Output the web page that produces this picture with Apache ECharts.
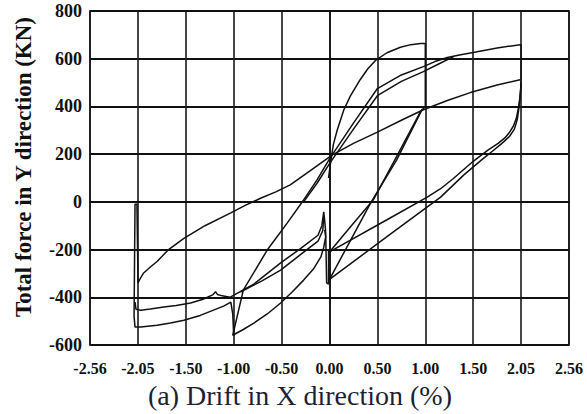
<!DOCTYPE html>
<html>
<head>
<meta charset="utf-8">
<script src="https://cdn.jsdelivr.net/npm/echarts@6/dist/echarts.min.js"></script>
<style>
html,body{margin:0;padding:0;background:#fff;}
#chart{width:587px;height:414px;}
</style>
</head>
<body>
<div id="chart"></div>
<script>
// x positions are in gridline units: each gridline step = 0.5; labels below are the printed tick texts
const xTickLabels = ['-2.56','-2.05','-1.50','-1.00','-0.50','0.00','0.50','1.00','1.50','2.05','2.56'];
const yTickValues = [-600,-400,-200,0,200,400,600,800];

const firstCycle = [[-0.01,100],[0.01,160],[0.04,240],[0.08,300],[0.15,386],[0.22,445],[0.32,512],[0.40,558],[0.48,593],[0.60,625],[0.74,648],[0.85,659],[0.95,664],[1.0,664],[1.0,400]];
const loadSteep = [[-1.01,-560],[-0.90,-370],[-0.65,-202],[-0.44,-88],[-0.27,8],[-0.13,92],[0.0,180],[0.25,330],[0.5,475],[0.75,532],[0.98,567],[1.1,588],[1.23,605],[1.37,617],[1.5,626],[1.75,645],[1.99,659],[2.0,659],[2.0,510]];
const loadSteep2 = [[-0.27,0],[-0.13,78],[0.0,160],[0.25,305],[0.5,445],[0.75,505],[0.98,546],[1.15,580],[1.3,610]];
const unload1a = [[1.0,400],[0.95,378],[0.71,197],[0.46,10],[0.2,-114],[0.0,-210]];
const unload1b = [[0.97,390],[0.70,175],[0.43,-4],[0.2,-176],[0.0,-325]];
const unload2a = [[2.0,510],[1.995,470],[1.985,430],[1.97,390],[1.95,350],[1.92,318],[1.88,292],[1.83,268],[1.76,245],[1.65,216],[1.5,170],[1.29,97],[1.16,55],[1.02,20],[0.6,-75],[0.0,-210]];
const unload2b = [[2.0,495],[1.99,440],[1.98,400],[1.96,345],[1.93,305],[1.88,275],[1.80,245],[1.7,212],[1.6,180],[1.4,112],[1.16,20],[1.0,-27],[0.6,-146],[0.0,-325]];
const toSpike1 = [[-1.04,-400],[-0.79,-345],[-0.51,-256],[-0.3,-195],[-0.12,-140],[-0.08,-100],[-0.06,-42],[-0.05,-80],[-0.04,-125]];
const toSpike2 = [[-0.93,-378],[-0.7,-330],[-0.51,-286],[-0.3,-220],[-0.12,-165],[-0.07,-120],[-0.06,-60]];
const lowCurve = [[-1.01,-559],[-0.90,-535],[-0.79,-508],[-0.65,-470],[-0.51,-424],[-0.39,-378],[-0.27,-328],[-0.17,-283],[-0.09,-231],[-0.06,-190],[-0.04,-147],[-0.05,-118]];
const slipBox = [[-0.04,-125],[-0.03,-340],[-0.01,-345],[-0.01,-205],[0.0,-210]];
const negUpper = [[-1.04,-400],[-1.12,-394],[-1.17,-388],[-1.19,-377],[-1.22,-390],[-1.32,-408],[-1.45,-424],[-1.60,-434],[-1.73,-441],[-1.87,-449],[-1.97,-454],[-2.02,-450],[-2.03,-420]];
const negLower = [[-1.0,-560],[-1.01,-470],[-1.03,-420],[-1.10,-436],[-1.21,-454],[-1.35,-476],[-1.52,-496],[-1.66,-508],[-1.80,-517],[-1.97,-525],[-2.03,-525],[-2.04,-480],[-2.03,-10],[-2.01,-10],[-2.0,-300],[-2.0,-340]];
const curveA = [[-2.0,-340],[-1.97,-318],[-1.94,-298],[-1.87,-273],[-1.80,-250],[-1.68,-200],[-1.52,-153],[-1.3,-100],[-1.03,-46],[-0.88,-15],[-0.72,15],[-0.56,42],[-0.41,71],[-0.2,131],[0.03,197],[0.25,245],[0.5,292],[0.75,342],[0.98,386],[1.23,425],[1.47,458],[1.75,490],[1.99,512]];

const branches = [firstCycle, loadSteep, loadSteep2, unload1a, unload1b, unload2a, unload2b, toSpike1, toSpike2, lowCurve, slipBox, negUpper, negLower, curveA];

const chart = echarts.init(document.getElementById('chart'), null, {renderer:'svg'});
const serif = '"Liberation Serif","Times New Roman",serif';
chart.setOption({
  animation:false,
  backgroundColor:'#fff',
  grid:{left:90,right:18,top:11,bottom:69,show:true,borderColor:'#111',borderWidth:1.6,backgroundColor:'transparent'},
  xAxis:{
    type:'value',min:-2.5,max:2.5,interval:0.5,
    axisLine:{show:true,lineStyle:{color:'#111',width:1.6}},
    axisTick:{show:false},
    splitLine:{show:true,lineStyle:{color:'#1a1a1a',width:1.6}},
    axisLabel:{
      margin:15,color:'#111',fontFamily:serif,fontWeight:'bold',fontSize:16,
      formatter:function(v){const i=Math.round((v+2.5)/0.5);return xTickLabels[i]||'';}
    }
  },
  yAxis:{
    type:'value',min:yTickValues[0],max:yTickValues[yTickValues.length-1],interval:200,
    axisLine:{show:true,lineStyle:{color:'#111',width:1.6}},
    axisTick:{show:false},
    splitLine:{show:true,lineStyle:{color:'#111',width:1.8}},
    axisLabel:{margin:8,color:'#111',fontFamily:serif,fontWeight:'bold',fontSize:18}
  },
  graphic:[
    {type:'text',x:23,y:167,rotation:Math.PI/2,style:{text:'Total force in Y direction (KN)',font:'bold 23px '+serif,fill:'#111',textAlign:'center',textVerticalAlign:'middle'}},
    {type:'text',x:300,y:395,style:{text:'(a) Drift in X direction (%)',font:'28px '+serif,fill:'#1e1e34',textAlign:'center',textVerticalAlign:'middle'}}
  ],
  series:branches.map(function(d){return {type:'line',data:d,showSymbol:false,symbol:'none',smooth:false,lineStyle:{color:'#111',width:1.5},z:3};})
});
</script>
</body>
</html>
